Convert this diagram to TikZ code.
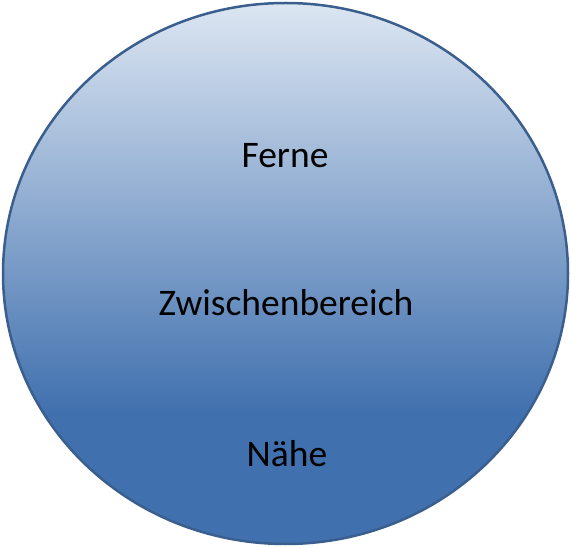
\documentclass[tikz,border=0pt]{standalone}
\usepackage{fontspec}
\setmainfont{Carlito}
\definecolor{gradlight}{HTML}{DCE6F2}
\definecolor{gradmid}{HTML}{7C9ECB}
\definecolor{graddark}{HTML}{4070AE}
\definecolor{rimblue}{HTML}{3A5F8E}
\pgfdeclareverticalshading{bubbleshade}{100bp}{%
  color(0bp)=(graddark); color(25bp)=(graddark); color(37bp)=(graddark);
  color(75bp)=(gradlight); color(100bp)=(gradlight)}
\tikzset{
  bubble/.style={draw=rimblue, line width=2.5pt, shading=bubbleshade},
  label/.style={font=\fontsize{37.5}{45}\selectfont, text=black, anchor=base, inner sep=0pt}
}
\begin{document}
\begin{tikzpicture}[x=1pt,y=1pt]
\useasboundingbox (0,0) rectangle (571,547);
\shade[bubble] (285.5,273.5) ellipse [x radius=282.5, y radius=270.5];
\node[label] (ferne) at (285,379) {Ferne};
\node[label] (zwischen) at (286,231) {Zwischenbereich};
\node[label] (naehe) at (287,81) {Nähe};
\end{tikzpicture}
\end{document}
